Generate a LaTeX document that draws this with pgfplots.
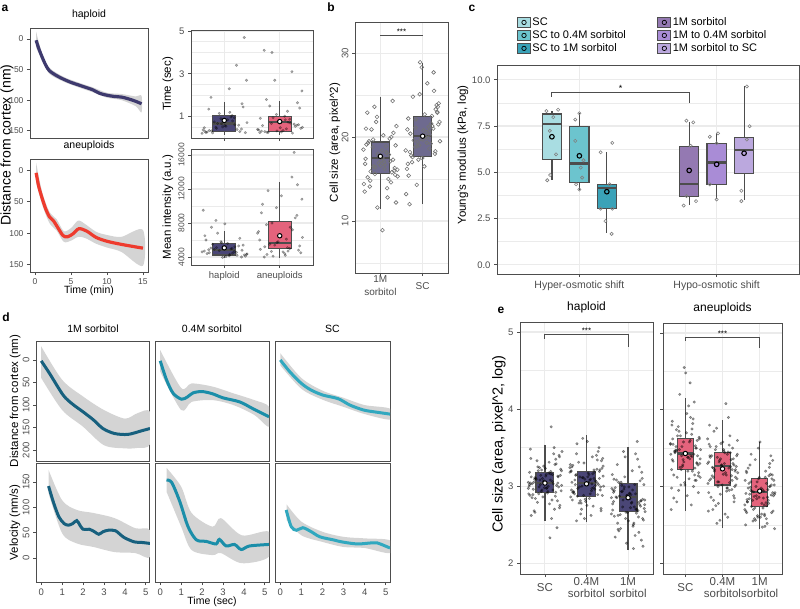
\documentclass[border=0pt]{standalone}
\usepackage{fontspec}
\setmainfont{Liberation Sans}
\usepackage{pgfplots}
\usepackage{pgfplotstable}
\pgfplotsset{compat=1.18}
\usepgfplotslibrary{statistics}

\newcommand{\fs}[1]{\fontsize{#1}{#1}\selectfont}

\definecolor{hap}{HTML}{3E3A6E}
\definecolor{hapbox}{HTML}{4A4676}
\definecolor{aneu}{HTML}{EE3B2E}
\definecolor{aneubox}{HTML}{E4637C}
\definecolor{bbox}{HTML}{6E6A8F}
\definecolor{cSC}{HTML}{A9DDE2}
\definecolor{cSCa}{HTML}{6CC4CE}
\definecolor{cSCb}{HTML}{3AA2B8}
\definecolor{cMa}{HTML}{9479B2}
\definecolor{cMb}{HTML}{A98CD6}
\definecolor{cMc}{HTML}{BBA8DE}
\definecolor{dM}{HTML}{17607E}
\definecolor{dF}{HTML}{1B8EA9}
\definecolor{dS}{HTML}{31A8BF}
\definecolor{ribc}{HTML}{D4D4D4}
\definecolor{grd}{HTML}{EBEBEB}
\definecolor{frm}{HTML}{4D4D4D}

\pgfplotsset{
  base/.style={scale only axis, anchor=north west,
    axis line style={draw=frm, line width=1pt},
    tick align=outside, tick pos=left, major tick length=3pt,
    tick style={draw=frm, line width=0.7pt}, minor tick length=0pt,
    ticklabel style={font=\fs{9.5}, text=black!70},
    title style={font=\fs{10.5}, inner sep=2.5pt},
    label style={font=\fs{11.5}},
    /pgf/number format/assume math mode=true,
    boxplot/draw direction=y,
    boxplot/every median/.style={line width=2.2pt},
    boxplot/every whisker/.style={line width=1.2pt},
  },
  gg/.style={base, grid=both, major grid style={draw=grd, line width=1.1pt},
    minor grid style={draw=grd, line width=0.55pt}},
  jit/.style={only marks, mark=*, mark size=1.3pt, mark options={draw=none, fill=black}, opacity=0.3},
  meanpt/.style={only marks, mark=*, mark size=2.2pt, mark options={fill=white, draw=black, line width=1pt}},
  ribbon/.style={fill=ribc, draw=none, smooth},
  keybox/.style={legend image code/.code={
    \draw[fill=#1, draw=frm, line width=0.8pt] (0pt,-5pt) rectangle (13pt,5pt);
    \draw[fill=#1, draw=black, line width=0.7pt] (6.5pt,0pt) circle (2.2pt);}},
}

% pos, lower whisker, lower quartile, median, upper quartile, upper whisker, width, fill
\newcommand{\gbox}[8]{\addplot[boxplot prepared={draw position=#1, lower whisker=#2,
  lower quartile=#3, median=#4, upper quartile=#5, upper whisker=#6, box extend=#7,
  whisker extend=0}, draw=frm, fill=#8, line width=1.1pt] coordinates {};}

% panel a, jittered points: time (sec) and mean intensity (thousands a.u.)
\pgfplotstableread{
dx tH tA iH iA
-0.27 0.35 0.30 4.50 5.20
0.19 0.62 0.70 5.20 7.50
0.38 0.25 0.45 4.10 4.50
-0.06 0.90 1.10 5.80 9.80
-0.36 0.48 0.25 4.70 6.00
0.10 1.20 0.85 4.30 4.20
0.28 0.30 0.55 6.20 8.60
-0.18 0.75 1.50 4.90 5.50
0.03 0.55 0.28 4.05 11.20
0.34 1.45 0.62 5.40 4.80
-0.40 0.22 0.40 4.60 6.80
-0.12 0.68 0.95 6.80 4.10
0.23 0.40 0.23 4.20 7.20
0.14 1.05 1.25 5.00 5.10
-0.31 0.28 0.58 4.40 10.20
0.06 0.85 0.35 5.60 4.60
-0.03 0.52 0.78 3.95 5.80
0.32 1.60 1.65 4.80 12.50
-0.23 0.33 0.27 7.50 4.30
0.41 0.72 0.50 4.35 6.30
-0.14 0.45 4.00 5.10 8.00
0.18 0.95 0.88 4.65 5.00
-0.33 0.26 0.32 6.00 9.20
0.09 2.30 1.02 4.15 4.40
0.26 0.60 0.65 5.30 16.30
-0.09 1.15 2.70 4.75 5.40
-0.38 0.38 0.38 9.50 7.00
0.15 0.80 0.74 4.45 4.70
-0.21 0.24 0.26 5.50 11.80
0.36 4.70 1.40 4.25 5.30
0.01 0.58 0.48 7.90 6.60
-0.28 1.35 4.10 4.85 4.00
0.31 0.42 0.60 4.00 8.90
-0.05 0.66 0.33 5.70 5.70
0.22 3.40 3.10 4.55 13.40
-0.35 0.31 0.92 6.50 4.90
0.12 0.98 0.43 4.95 6.10
0.40 2.70 2.20 4.30 10.80
-0.15 0.50 0.68 8.30 4.65
-0.24 1.90 1.80 5.05 7.80
}\tabA

% panel b, cell size
\pgfplotstableread{
dx m1 sc
0.05 17.5 20.1
-0.30 15.2 18.2
0.22 19.8 22.5
-0.12 16.4 19.4
0.38 21.3 24.0
-0.25 14.1 17.0
0.14 18.2 21.2
-0.04 16.9 19.8
0.31 20.5 23.3
-0.37 13.5 16.2
0.09 17.0 20.6
-0.18 18.8 18.8
0.27 15.8 25.5
-0.08 22.4 19.0
0.40 16.1 21.8
-0.33 19.1 15.4
0.17 12.8 20.3
-0.01 17.8 17.5
0.35 15.5 22.9
-0.21 20.9 19.6
0.11 16.7 26.4
-0.40 18.5 18.4
0.25 14.6 21.0
-0.14 23.6 14.3
0.02 17.2 20.8
0.33 16.0 23.8
-0.27 19.5 17.8
0.19 15.0 19.2
-0.06 18.0 28.9
0.37 12.2 21.5
-0.35 17.4 16.8
0.07 20.2 20.0
-0.16 16.5 22.1
0.29 24.3 18.0
-0.23 15.9 24.8
0.13 18.9 19.9
-0.39 14.4 13.2
0.23 17.1 21.3
-0.10 21.8 17.3
0.34 16.3 23.0
-0.29 19.3 20.4
0.16 13.9 18.6
-0.02 17.7 28.3
0.41 15.3 19.5
0.05 8.9 22.7
0.04 18.4 16.5
-0.36 16.8 20.9
0.26 20.0 27.7
-0.13 15.6 18.9
0.20 17.9 21.6
-0.31 22.9 12.0
0.10 16.2 19.3
0.36 19.0 23.6
-0.24 14.8 17.6
0.15 18.1 20.7
-0.07 11.6 25.1
0.30 17.3 18.3
-0.34 21.0 22.2
0.01 16.6 19.7
-0.17 19.7 21.1
}\tabB

% panel e, cell size (log), two draws of the point cloud
\pgfplotstableread{
dx hSC h04 h1M aSC a04 a1M
-0.27 3.05 3.02 2.85 3.45 3.25 2.90
0.19 2.95 3.18 2.70 3.20 3.05 2.75
0.38 3.22 2.88 3.02 3.62 3.40 3.08
-0.06 3.10 3.30 2.58 3.35 2.90 2.62
-0.36 2.88 2.95 2.95 3.80 3.55 3.20
0.10 3.31 3.09 3.20 3.10 3.15 2.85
0.28 3.01 3.45 2.76 3.50 3.30 3.00
-0.18 2.79 2.78 2.45 2.95 2.75 2.55
0.03 3.15 3.12 2.90 3.70 3.48 2.95
0.34 3.40 2.99 3.10 3.28 3.20 3.15
-0.40 2.97 3.24 2.64 3.55 3.62 2.70
-0.12 3.08 2.70 2.82 3.02 3.00 3.35
0.23 2.70 3.06 3.35 3.42 3.35 2.82
0.14 3.19 3.38 2.52 3.90 2.60 2.48
-0.31 3.03 2.92 2.98 3.15 3.10 2.98
0.06 2.91 3.15 2.72 3.38 3.44 2.78
-0.03 3.26 2.83 2.88 4.55 3.28 3.10
0.32 3.12 3.21 2.30 3.60 2.85 2.66
-0.23 2.84 3.55 3.05 2.80 3.72 3.42
0.41 3.45 3.00 2.67 3.48 3.18 2.92
-0.14 2.99 2.64 2.93 3.25 3.38 2.58
0.18 3.06 3.10 3.42 3.75 2.95 3.04
-0.33 2.62 3.27 2.61 3.33 3.52 2.80
0.09 3.17 2.90 2.79 4.05 4.08 2.72
0.26 3.35 3.04 2.40 3.08 3.08 3.25
-0.09 2.93 3.62 2.99 3.52 3.32 2.88
-0.38 3.00 2.86 3.15 2.70 2.68 2.50
0.15 3.77 3.16 2.73 3.40 3.45 3.12
-0.21 3.09 2.97 2.87 3.66 3.22 2.94
0.36 2.75 3.33 2.22 3.18 3.02 2.68
0.01 3.23 2.75 2.55 4.48 3.58 3.58
-0.28 2.96 3.08 3.08 3.44 3.14 2.84
0.31 3.13 3.19 2.81 3.30 2.80 3.02
-0.05 2.86 2.58 2.66 3.58 3.36 2.60
0.22 3.50 3.01 3.58 3.00 3.26 2.96
-0.35 3.04 3.25 2.92 3.85 3.80 3.18
0.12 2.33 2.94 2.48 3.36 2.98 2.76
0.40 3.20 3.13 2.76 3.12 3.42 2.45
-0.15 2.90 2.81 3.01 4.20 2.52 2.87
-0.24 3.11 3.42 2.62 3.47 3.12 3.06
0.05 2.98 3.05 2.84 2.88 3.30 2.64
0.27 3.29 2.89 3.25 3.53 3.50 3.30
-0.37 3.02 3.20 2.69 3.22 2.92 2.91
0.17 2.82 2.98 2.36 3.68 3.24 2.79
-0.10 3.14 3.11 2.96 3.40 3.06 3.00
0.08 3.00 3.08 2.78 3.38 3.18 2.96
-0.33 3.12 2.92 2.94 3.55 3.38 2.80
0.25 2.87 3.22 2.60 3.15 2.96 3.14
-0.17 3.25 2.99 3.05 3.72 3.52 2.70
0.39 2.94 3.36 2.71 3.30 3.10 3.02
-0.02 3.07 2.80 2.88 3.05 3.28 2.86
-0.26 2.68 3.14 3.28 3.47 2.70 3.28
0.13 3.16 3.03 2.50 3.60 3.42 2.62
0.35 3.38 2.68 2.83 2.92 3.22 2.92
-0.39 2.90 3.28 2.97 3.42 3.04 3.08
0.20 3.03 2.96 2.65 3.82 3.66 2.52
-0.08 3.21 3.11 3.12 3.26 3.34 2.84
0.30 2.81 3.50 2.74 3.50 2.88 3.40
-0.22 3.10 2.87 2.42 3.12 3.20 2.74
0.04 2.97 3.17 2.91 3.95 3.46 2.98
-0.35 3.48 3.05 2.80 3.35 3.08 2.66
0.16 2.58 2.74 3.02 2.76 3.90 3.20
0.37 3.14 3.23 2.56 3.64 3.26 2.88
-0.11 3.02 3.00 3.45 3.22 2.78 2.56
-0.29 2.89 2.90 2.86 3.46 3.40 3.04
0.24 3.28 3.40 2.68 4.10 3.14 2.78
-0.04 3.06 3.09 2.26 3.32 3.56 3.50
0.11 2.77 2.62 2.95 3.58 2.94 2.94
-0.37 3.18 3.19 2.77 2.98 3.32 2.68
0.33 2.99 2.95 3.18 3.40 3.00 3.10
-0.19 3.33 3.31 2.63 3.78 3.48 2.82
0.07 2.93 2.84 2.89 3.20 2.64 2.47
-0.25 3.09 3.15 2.52 3.52 3.24 2.99
0.29 2.46 3.02 3.07 3.08 3.36 3.16
-0.13 3.24 2.78 2.73 3.66 3.06 2.72
0.40 3.01 3.26 2.82 3.36 3.60 2.90
-0.31 2.85 2.93 2.34 2.85 2.86 3.24
0.02 3.13 3.58 2.99 3.44 3.16 2.60
0.21 3.42 3.07 2.70 3.88 3.44 2.86
-0.07 2.95 2.88 3.38 3.28 2.56 3.06
-0.40 3.05 3.18 2.85 3.56 3.30 2.76
0.35 2.72 2.71 2.58 3.14 3.12 3.34
-0.16 3.20 3.12 2.93 3.48 3.76 2.93
0.13 3.08 2.97 2.19 4.35 2.98 2.64
0.26 2.92 3.34 2.79 3.24 3.22 3.00
-0.34 3.36 2.82 3.09 3.62 3.40 2.83
-0.01 2.98 3.04 2.66 3.02 3.02 3.12
0.18 3.15 3.21 2.90 3.39 3.54 2.58
-0.24 2.66 2.55 2.44 3.74 2.82 2.95
0.31 3.04 3.10 2.81 3.31 3.28 2.89
}\tabE

\begin{document}
\begin{tikzpicture}
\path[use as bounding box] (0,0) rectangle (800pt,-608pt);

\node[font=\bfseries\fs{12}] at (5pt,-8pt) {a};
\node[font=\bfseries\fs{12}] at (331pt,-7pt) {b};
\node[font=\bfseries\fs{12}] at (472pt,-8pt) {c};
\node[font=\bfseries\fs{12}] at (6pt,-317pt) {d};
\node[font=\bfseries\fs{12}] at (501pt,-310pt) {e};
\node[rotate=90, font=\fs{14}] at (7pt,-145pt) {Distance from cortex (nm)};

% ---------- a: haploid trajectory
\begin{axis}[base, at={(30pt,-28pt)}, width=118pt, height=110pt,
  ticklabel style={font=\fs{8.5}},
  xmin=-0.7, xmax=15.7, ymin=-18, ymax=162, y dir=reverse,
  ytick={0,50,100,150}, xtick=\empty, title={haploid}]
\addplot[ribbon] coordinates {(0.15,-12) (1,25) (2,47) (4,62) (6,71) (8,79) (10,88) (12,90) (14,94) (14.8,93)
  (14.8,120) (14,110) (12,100) (10,96) (8,87) (6,79) (4,70) (2,57) (1,35) (0.15,14)};
\addplot[hap, line width=3.2pt, smooth] coordinates {(0.15,2) (0.5,15) (1,30) (1.5,43) (2,52) (3,60) (4,66)
  (5,71) (6,75) (7,79) (8,83) (9,89) (10,92) (11,94) (12,95) (13,98) (14,102) (14.8,106)};
\end{axis}

% ---------- a: aneuploid trajectory
\begin{axis}[base, at={(30pt,-159pt)}, width=118pt, height=113pt,
  ticklabel style={font=\fs{8.5}},
  xmin=-0.7, xmax=15.7, ymin=-18, ymax=162, y dir=reverse,
  ytick={0,50,100,150}, xtick={0,5,10,15}, title={aneuploids},
  xlabel={Time (min)}, xlabel style={font=\fs{10.5}, at={(axis description cs:0.5,-0.17)}, anchor=center}]
\addplot[ribbon] coordinates {(0.15,-12) (1,35) (2,66) (3,78) (4,97) (5,92) (6,80) (7,86) (8.5,98) (10,103) (12,106) (15,95)
  (15,152) (12,130) (10,123) (8.5,117) (7,108) (6,106) (5,112) (4,114) (3,96) (2,84) (1,55) (0.15,20)};
\addplot[aneu, line width=3.2pt, smooth] coordinates {(0.15,4) (0.5,25) (1,45) (1.5,62) (2,74) (2.6,81) (3.2,92)
  (3.9,104) (4.5,106) (5.3,101) (6.1,93) (7.2,97) (8.5,107) (10,113) (12,118) (15,124)};
\end{axis}

% ---------- a: time
\begin{axis}[gg, at={(191pt,-30pt)}, width=122pt, height=108pt,
  xmin=0.4, xmax=2.6, ymin=0, ymax=5.05, xtick={1,2}, xticklabels={},
  ytick={1,3,5}, minor ytick={0.5,1.5,2,2.5,3.5,4,4.5},
  ylabel={Time (sec)}, ylabel style={at={(axis description cs:-0.19,0.5)}, anchor=center}]
\gbox{1}{0.15}{0.32}{0.68}{1.05}{1.68}{0.42}{hapbox}
\gbox{2}{0.15}{0.32}{0.73}{1.00}{1.73}{0.42}{aneubox}
\addplot[jit] table[x expr=1+\thisrow{dx}, y=tH] {\tabA};
\addplot[jit] table[x expr=2+\thisrow{dx}, y=tA] {\tabA};
\addplot[meanpt] coordinates {(1,0.82) (2,0.77)};
\end{axis}

% ---------- a: mean intensity (plotted in thousands)
\begin{axis}[gg, at={(191pt,-149pt)}, width=122pt, height=116pt,
  xmin=0.4, xmax=2.6, ymin=3.06, ymax=16.7, xtick={1,2}, xticklabels={haploid,aneuploids},
  ytick={4,8,12,16}, yticklabels={4000,8000,12000,16000},
  minor ytick={6,10,14}, yticklabel style={rotate=90, anchor=south, font=\fs{8.5}},
  ylabel={Mean intensity (a.u.)}, ylabel style={at={(axis description cs:-0.19,0.5)}, anchor=center}]
\gbox{1}{3.90}{4.24}{4.84}{5.55}{7.00}{0.42}{hapbox}
\gbox{2}{3.90}{4.95}{5.67}{8.18}{12.84}{0.42}{aneubox}
\addplot[jit] table[x expr=1+\thisrow{dx}, y=iH] {\tabA};
\addplot[jit] table[x expr=2+\thisrow{dx}, y=iA] {\tabA};
\addplot[meanpt] coordinates {(1,5.075) (2,6.5)};
\end{axis}

% ---------- b
\begin{axis}[gg, at={(355pt,-22pt)}, width=93pt, height=251pt,
  xmin=0.4, xmax=2.6, ymin=3.8, ymax=33.7, xtick={1,2}, xticklabels={1M\\sorbitol,SC},
  xticklabel style={align=center, font=\fontsize{10}{13}\selectfont, anchor=center, yshift=-10pt},
  ytick={10,20,30}, minor ytick={5,15,25}, yticklabel style={rotate=90, anchor=south},
  ylabel={Cell size (area, pixel\textasciicircum 2)}, ylabel style={at={(axis description cs:-0.215,0.52)}, anchor=center}]
\gbox{1}{11.4}{15.7}{17.5}{19.4}{24.8}{0.42}{bbox}
\gbox{2}{12.0}{17.7}{20.1}{22.4}{28.8}{0.42}{bbox}
\addplot[only marks, mark=o, mark size=1.9pt, draw=black!55, line width=0.6pt] table[x expr=1+\thisrow{dx}, y=m1] {\tabB};
\addplot[only marks, mark=o, mark size=1.9pt, draw=black!55, line width=0.6pt] table[x expr=2+\thisrow{dx}, y=sc] {\tabB};
\addplot[meanpt] coordinates {(1,17.7) (2,20.1)};
\draw[frm, line width=1pt] (axis cs:1,32.1) -- (axis cs:2,32.1);
\node[font=\fs{8}, anchor=south, inner sep=0.5pt] at (axis cs:1.5,32.1) {***};
\end{axis}

% ---------- c
\begin{axis}[gg, at={(497pt,-65pt)}, width=302pt, height=209pt,
  xmin=0.4, xmax=2.6, ymin=-0.5, ymax=10.8, xtick={1,2},
  xticklabels={Hyper-osmotic shift,Hypo-osmotic shift}, xticklabel style={font=\fs{10.5}},
  ytick={0,2.5,5,7.5,10}, minor ytick={1.25,3.75,6.25,8.75},
  yticklabel style={/pgf/number format/.cd, fixed, fixed zerofill, precision=1},
  ylabel={Young's modulus (kPa, log)}, ylabel style={at={(axis description cs:-0.113,0.57)}, anchor=center},
  legend columns=2, legend cell align=left,
  legend entries={SC,1M sorbitol,SC to 0.4M sorbitol,1M to 0.4M sorbitol,SC to 1M sorbitol,1M sorbitol to SC},
  legend style={at={(0.056,1.244)}, anchor=north west, draw=none, fill=none, font=\fs{11},
    row sep=0.5pt, nodes={inner sep=1.5pt}, /tikz/every even column/.append style={column sep=30pt}}]
\addlegendimage{keybox=cSC}
\addlegendimage{keybox=cMa}
\addlegendimage{keybox=cSCa}
\addlegendimage{keybox=cMb}
\addlegendimage{keybox=cSCb}
\addlegendimage{keybox=cMc}
\gbox{0.8}{4.58}{5.67}{7.60}{8.15}{8.33}{0.14}{cSC}
\gbox{1.0}{4.04}{4.47}{5.47}{7.46}{8.19}{0.14}{cSCa}
\gbox{1.2}{1.72}{3.03}{4.13}{4.35}{6.10}{0.14}{cSCb}
\gbox{1.8}{3.22}{3.70}{4.38}{6.38}{7.73}{0.14}{cMa}
\gbox{2.0}{3.53}{4.35}{5.53}{6.56}{7.10}{0.14}{cMb}
\gbox{2.2}{3.48}{4.93}{6.21}{6.88}{9.64}{0.14}{cMc}
\addplot[only marks, mark=o, mark size=1.6pt, draw=black!50, line width=0.6pt] coordinates {
  (0.76,8.31) (0.845,8.38) (0.81,7.98) (0.785,7.24) (0.83,5.97) (0.787,4.85) (0.766,4.57)
  (1.0,8.19) (0.97,7.85) (0.97,6.70) (1.03,5.65) (1.01,5.25) (1.02,4.71) (0.976,4.35) (1.0,4.07)
  (1.24,6.59) (1.155,6.08) (1.22,4.35) (1.155,3.03) (1.24,3.03) (1.19,2.36) (1.235,1.67)
  (1.78,7.79) (1.83,7.70) (1.81,6.43) (1.78,3.71) (1.85,3.44) (1.76,3.20)
  (2.01,7.10) (1.95,6.92) (2.0,6.57) (1.95,4.35) (2.0,3.53)
  (2.22,9.64) (2.24,7.49) (2.22,6.77) (2.18,4.00) (2.18,3.44)};
\addplot[only marks, mark=*, mark size=2.3pt, mark options={fill=cSC, draw=black, line width=1.1pt}] coordinates {(0.8,6.92)};
\addplot[only marks, mark=*, mark size=2.3pt, mark options={fill=cSCa, draw=black, line width=1.1pt}] coordinates {(1.0,5.89)};
\addplot[only marks, mark=*, mark size=2.3pt, mark options={fill=cSCb, draw=black, line width=1.1pt}] coordinates {(1.2,3.95)};
\addplot[only marks, mark=*, mark size=2.3pt, mark options={fill=cMa, draw=black, line width=1.1pt}] coordinates {(1.8,5.10)};
\addplot[only marks, mark=*, mark size=2.3pt, mark options={fill=cMb, draw=black, line width=1.1pt}] coordinates {(2.0,5.43)};
\addplot[only marks, mark=*, mark size=2.3pt, mark options={fill=cMc, draw=black, line width=1.1pt}] coordinates {(2.2,6.03)};
\draw[frm, line width=1pt] (axis cs:0.8,9.08) -- (axis cs:0.8,9.29) -- (axis cs:1.8,9.29) -- (axis cs:1.8,8.75);
\node[font=\fs{9}, anchor=south, inner sep=0.5pt] at (axis cs:1.3,9.32) {*};
\end{axis}

% ---------- d: distance row
\begin{axis}[base, at={(36pt,-341pt)}, width=114pt, height=120pt,
  xmin=-0.25, xmax=5.2, ymin=-42, ymax=224, y dir=reverse, xtick=\empty,
  ytick={0,50,100,150,200}, yticklabel style={rotate=90, anchor=south}, title={1M sorbitol},
  ylabel={Distance from cortex (nm)}, ylabel style={at={(axis description cs:-0.184,0.5)}, anchor=center}]
\addplot[ribbon] coordinates {(0,-30) (1,44) (2,81) (3,111) (4,130) (4.6,118) (5.2,115)
  (5.2,187) (4.6,195) (4,196) (3,189) (2,148) (1,111) (0,40)};
\addplot[dM, line width=3pt, smooth] coordinates {(0,2) (0.4,30) (1.05,78) (1.5,98) (2,115) (2.5,133)
  (2.95,152) (3.5,163) (4.15,165) (4.8,157) (5.2,152)};
\end{axis}
\begin{axis}[base, at={(155pt,-341pt)}, width=114pt, height=120pt,
  xmin=-0.25, xmax=5.2, ymin=-42, ymax=224, y dir=reverse, xtick=\empty, ytick=\empty,
  title={0.4M sorbitol}]
\addplot[ribbon] coordinates {(0,-22) (1,62) (1.5,52) (2.5,59) (3.5,74) (4.5,89) (5.2,104)
  (5.2,148) (4.5,122) (3.5,100) (2.5,89) (1.5,93) (1,111) (0,26)};
\addplot[dF, line width=3pt, smooth] coordinates {(0,2) (0.3,44) (0.62,74) (1.02,87) (1.3,82) (1.57,73)
  (2,70) (2.5,75) (3,84) (3.8,93) (4.43,108) (5.2,126)};
\end{axis}
\begin{axis}[base, at={(275pt,-341pt)}, width=115pt, height=120pt,
  xmin=-0.25, xmax=5.2, ymin=-42, ymax=224, y dir=reverse, xtick=\empty, ytick=\empty,
  title={SC}]
\addplot[ribbon] coordinates {(0,-15) (1,40) (2,68) (3,84) (4,100) (5.2,108)
  (5.2,132) (4,120) (3,104) (2,88) (1,64) (0,12)};
\addplot[dS, line width=3pt, smooth] coordinates {(0,0) (0.45,26) (1,52) (1.47,67) (2.03,78) (2.75,86)
  (3.3,100) (3.95,111) (4.6,116) (5.2,120)};
\end{axis}

% ---------- d: velocity row
\begin{axis}[base, at={(36pt,-463pt)}, width=114pt, height=119pt,
  xmin=-0.25, xmax=5.2, ymin=-47, ymax=187.5, xtick={0,...,5},
  ytick={0,50,100,150}, yticklabel style={rotate=90, anchor=south},
  ylabel={Velocity (nm/s)}, ylabel style={at={(axis description cs:-0.184,0.5)}, anchor=center}]
\addplot[ribbon] coordinates {(0.35,174) (1,114) (1.7,95) (2.5,89) (3.5,79) (4.5,59) (5.2,55)
  (5.2,2) (4.5,10) (3.5,12) (2.5,22) (1.7,29) (1,49) (0.35,128)};
\addplot[dM, line width=3pt, smooth] coordinates {(0.35,142) (0.6,108) (0.85,81) (1.1,68) (1.3,65) (1.5,68)
  (1.7,74) (1.85,65) (2.0,57) (2.3,57) (2.55,52) (2.75,47) (2.95,52) (3.2,55) (3.55,54) (3.95,41)
  (4.45,32) (4.8,31) (5.2,29)};
\end{axis}
\begin{axis}[base, at={(155pt,-463pt)}, width=114pt, height=119pt,
  xmin=-0.25, xmax=5.2, ymin=-47, ymax=187.5, xtick={0,...,5}, ytick=\empty,
  xlabel={Time (sec)}, xlabel style={font=\fs{10.5}, at={(axis description cs:0.5,-0.168)}, anchor=center}]
\addplot[ribbon] coordinates {(0.3,178) (1,141) (1.5,89) (2.5,62) (2.9,79) (3.9,45) (5.2,52)
  (5.2,3) (3.9,-10) (2.9,10) (2.5,6) (1.5,16) (1,62) (0.3,131)};
\addplot[dF, line width=3pt, smooth] coordinates {(0.3,154) (0.55,149) (0.94,111) (1.33,62) (1.73,36)
  (2.2,33) (2.67,28) (2.83,37) (3.15,24) (3.55,27) (3.87,17) (4.27,24) (5.2,27)};
\end{axis}
\begin{axis}[base, at={(275pt,-463pt)}, width=115pt, height=119pt,
  xmin=-0.25, xmax=5.2, ymin=-47, ymax=187.5, xtick={0,...,5}, ytick=\empty]
\addplot[ribbon] coordinates {(0.3,106) (1,72) (2,52) (3,42) (4,39) (5.2,35)
  (5.2,10) (4,20) (3,22) (2,32) (1,45) (0.3,75)};
\addplot[dS, line width=3pt, smooth] coordinates {(0.28,95) (0.52,62) (0.77,55) (1.07,60) (1.47,52)
  (1.88,42) (2.52,36) (2.92,32) (3.65,28) (4.3,30) (4.6,30) (5.2,20)};
\end{axis}

% ---------- e: haploid
\begin{axis}[gg, at={(520pt,-322pt)}, width=133pt, height=252pt,
  xmin=0.4, xmax=3.6, ymin=1.86, ymax=5.13, xtick={1,2,3},
  xticklabels={SC,0.4M\\sorbitol,1M\\sorbitol},
  xticklabel style={align=center, font=\fontsize{11.5}{12}\selectfont, anchor=center, yshift=-11pt},
  ytick={2,3,4,5}, minor ytick={2.5,3.5,4.5}, title={haploid}, title style={font=\fs{12}},
  ylabel={Cell size (area, pixel\textasciicircum 2, log)},
  ylabel style={font=\fs{14.5}, at={(axis description cs:-0.158,0.516)}, anchor=center},
  jit/.append style={opacity=0.38}]
\gbox{1}{2.55}{2.92}{3.04}{3.18}{3.54}{0.43}{hapbox}
\gbox{2}{2.53}{2.86}{3.04}{3.19}{3.66}{0.43}{hapbox}
\gbox{3}{2.17}{2.67}{2.86}{3.04}{3.51}{0.43}{hapbox}
\addplot[jit] table[x expr=1+\thisrow{dx}, y=hSC] {\tabE};
\addplot[jit] table[x expr=2+\thisrow{dx}, y=h04] {\tabE};
\addplot[jit] table[x expr=3+\thisrow{dx}, y=h1M] {\tabE};
\addplot[meanpt] coordinates {(1,3.04) (2,3.03) (3,2.85)};
\draw[frm, line width=1pt] (axis cs:1,4.91) -- (axis cs:1,4.97) -- (axis cs:3,4.97) -- (axis cs:3,4.81);
\node[font=\fs{8}, anchor=south, inner sep=0.5pt] at (axis cs:2,4.97) {***};
\end{axis}

% ---------- e: aneuploids
\begin{axis}[gg, at={(663pt,-323pt)}, width=119pt, height=251pt,
  xmin=0.4, xmax=3.6, ymin=1.86, ymax=5.13, xtick={1,2,3},
  xticklabels={SC,0.4M\\sorbitol,1M\\sorbitol},
  xticklabel style={align=center, font=\fontsize{11.5}{12}\selectfont, anchor=center, yshift=-11pt},
  ytick={2,3,4,5}, yticklabels={}, minor ytick={2.5,3.5,4.5}, title={aneuploids}, title style={font=\fs{12}},
  jit/.append style={opacity=0.38}]
\gbox{1}{2.68}{3.22}{3.43}{3.63}{4.15}{0.43}{aneubox}
\gbox{2}{2.46}{3.02}{3.27}{3.44}{3.86}{0.43}{aneubox}
\gbox{3}{2.44}{2.74}{2.93}{3.11}{3.58}{0.43}{aneubox}
\addplot[jit] table[x expr=1+\thisrow{dx}, y=aSC] {\tabE};
\addplot[jit] table[x expr=2+\thisrow{dx}, y=a04] {\tabE};
\addplot[jit] table[x expr=3+\thisrow{dx}, y=a1M] {\tabE};
\addplot[meanpt] coordinates {(1,3.43) (2,3.23) (3,2.94)};
\draw[frm, line width=1pt] (axis cs:1,4.90) -- (axis cs:1,4.94) -- (axis cs:3,4.94) -- (axis cs:3,4.80);
\node[font=\fs{8}, anchor=south, inner sep=0.5pt] at (axis cs:2,4.94) {***};
\end{axis}
\end{tikzpicture}
\end{document}
